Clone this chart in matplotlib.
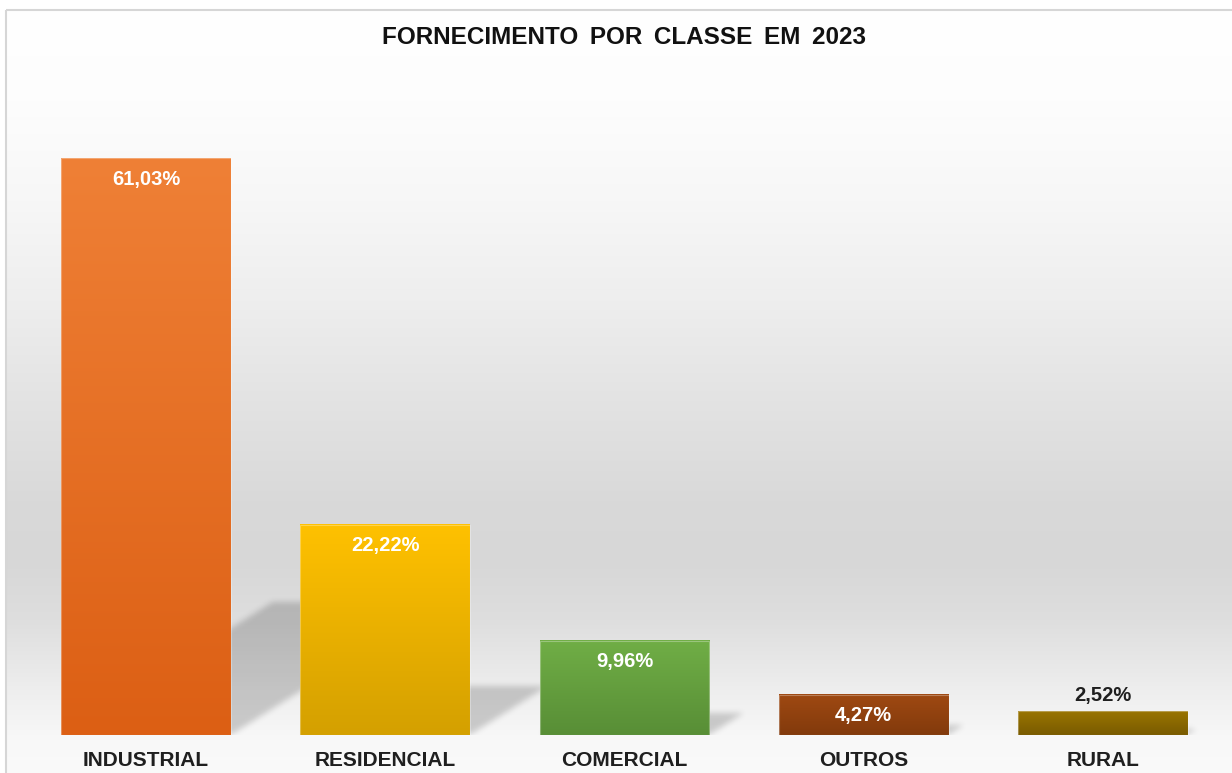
import numpy as np
import matplotlib
matplotlib.use("Agg")
import matplotlib.pyplot as plt
from matplotlib.path import Path
from matplotlib.patches import Rectangle

plt.rcParams['font.family'] = ['Liberation Sans', 'DejaVu Sans']

# dados
classes = ['INDUSTRIAL', 'RESIDENCIAL', 'COMERCIAL', 'OUTROS', 'RURAL']
valores = [61.03, 22.22, 9.96, 4.27, 2.52]
rotulos = ['61,03%', '22,22%', '9,96%', '4,27%', '2,52%']
cor_topo = ['#ef8036', '#ffc100', '#70ae46', '#9f4912', '#997400']
cor_base = ['#dc5f14', '#d4a000', '#588e36', '#823a0c', '#795b00']

W, H = 1232, 773
fig = plt.figure(figsize=(W / 100, H / 100), dpi=100)

# fundo em degrade (cinza no meio, claro em cima e em baixo)
bg = fig.add_axes([0, 0, 1, 1], zorder=0)
bg.set_axis_off()
yy = np.arange(H)
stops_y = [10, 100, 200, 300, 400, 500, 560, 620, 690, 740, 773]
stops_v = [255, 253, 247, 238, 227, 217, 215, 222, 238, 248, 250]
g = np.interp(yy, stops_y, stops_v) / 255.0
grad = np.repeat(g[:, None], W, axis=1)
grad[:10, :] = 1.0
grad[:, :6] = 1.0
bg.imshow(np.dstack([grad] * 3), extent=[0, W, H, 0], aspect='auto')
bg.set_xlim(0, W)
bg.set_ylim(H, 0)
bg.add_patch(Rectangle((6, 10), W + 20, H + 20, fill=False, ec='#d6d6d6', lw=1.5))

# eixo principal: base em y=735px, 61,03% -> 577px
base_px = 735
top_px = 10
px_per_pct = 577 / 61.03
ax = fig.add_axes([0, (H - base_px) / H, 1, (base_px - top_px) / H], zorder=1)
ax.patch.set_alpha(0)
ymax = (base_px - top_px) / px_per_pct
spacing = 239.25
x0 = -146 / spacing
ax.set_xlim(x0, x0 + W / spacing)
ax.set_ylim(0, ymax)
for s in ax.spines.values():
    s.set_visible(False)
ax.set_yticks([])

x = np.arange(len(classes))
bars = ax.bar(x, valores, width=0.71, color='none', edgecolor='none', zorder=3)

# sombras em perspectiva (raster com desfoque)
nx, ny = W, base_px - top_px
gx = np.linspace(ax.get_xlim()[0], ax.get_xlim()[1], nx)
gy = np.linspace(ymax, 0, ny)
XX, YY = np.meshgrid(gx, gy)
pts = np.column_stack([XX.ravel(), YY.ravel()])
mask = np.zeros(XX.size)
for b, v in zip(bars, valores):
    xl = b.get_x()
    xr = xl + b.get_width()
    dx = 0.366 * v * px_per_pct / spacing
    dy = 0.23 * v
    p = Path([(xl, 0), (xr, 0), (xr + dx, dy), (xl + dx, dy), (xl, 0)])
    mask = np.maximum(mask, p.contains_points(pts).astype(float))
mask = mask.reshape(ny, nx)
k = np.exp(-0.5 * (np.arange(-9, 10) / 3.0) ** 2)
k /= k.sum()
mask = np.apply_along_axis(lambda r: np.convolve(r, k, mode='same'), 1, mask)
mask = np.apply_along_axis(lambda c: np.convolve(c, k, mode='same'), 0, mask)
sombra = np.zeros((ny, nx, 4))
sombra[..., 3] = mask * 0.18
ax.imshow(sombra, extent=[gx[0], gx[-1], 0, ymax], aspect='auto', zorder=2)

# barras com degrade vertical
for b, ct, cb in zip(bars, cor_topo, cor_base):
    c1 = np.array(matplotlib.colors.to_rgb(ct))
    c2 = np.array(matplotlib.colors.to_rgb(cb))
    t = np.linspace(0, 1, 200)[:, None]
    img = (c1 * (1 - t) + c2 * t)[:, None, :]
    xl = b.get_x()
    ax.imshow(img, extent=[xl, xl + b.get_width(), 0, b.get_height()],
              aspect='auto', zorder=3)
    ax.add_patch(Rectangle((xl, 0), b.get_width(), b.get_height(), fill=False,
                           ec='white', lw=0.8, alpha=0.3, zorder=4))
ax.set_xlim(x0, x0 + W / spacing)
ax.set_ylim(0, ymax)

# rotulos de dados
for b, v, r in zip(bars, valores, rotulos):
    cx = b.get_x() + b.get_width() / 2
    if v > 3:
        ax.annotate(r, (cx, v), xytext=(0, -21 * 0.72), textcoords='offset points',
                    ha='center', va='center', color='white', fontsize=14.5,
                    fontweight='bold', zorder=5)
    else:
        ax.annotate(r, (cx, v), xytext=(0, 16 * 0.72), textcoords='offset points',
                    ha='center', va='center', color='#1f1f1f', fontsize=14.5,
                    fontweight='bold', zorder=5)

ax.set_xticks(x)
ax.set_xticklabels(classes, fontsize=15, fontweight='bold', color='#1f1f1f')
ax.tick_params(axis='x', length=0, pad=11.5)

# titulo: palavras com espacamento um pouco maior, como no original
palavras = 'FORNECIMENTO POR CLASSE EM 2023'.split()
t = fig.text(624 / W, 1 - 38 / H, '\u2009'.join(palavras).replace('\u2009', ' \u2009'),
             ha='center', va='center', fontsize=17.5, fontweight='bold',
             color='#111111', family=['Liberation Sans', 'DejaVu Sans'])

fig.savefig('out.png', dpi=100)
